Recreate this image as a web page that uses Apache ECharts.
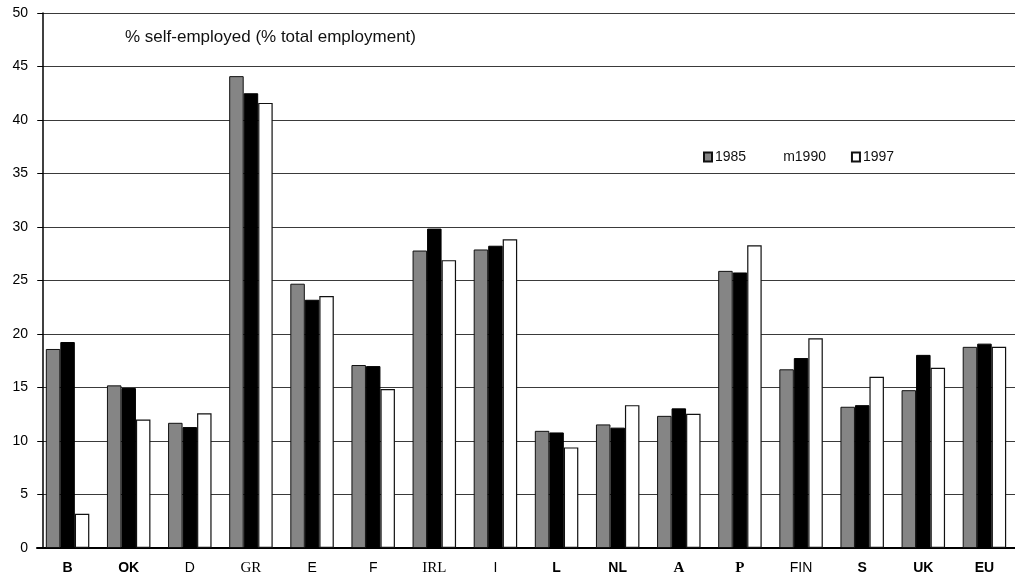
<!DOCTYPE html>
<html>
<head>
<meta charset="utf-8">
<script src="https://cdn.jsdelivr.net/npm/echarts@6/dist/echarts.min.js"></script>
<style>
html, body { margin: 0; padding: 0; background: #fff; }
#chart { width: 1015px; height: 588px; }
</style>
</head>
<body>
<div id="chart"></div>
<script>
// country codes along the x axis
const countries = ['B', 'OK', 'D', 'GR', 'E', 'F', 'IRL', 'I', 'L', 'NL', 'A', 'P', 'FIN', 'S', 'UK', 'EU']
// font style of each label as printed
const labelStyles = ['sb', 'sb', 's', 'r', 's', 's', 'r', 's', 'sb', 'sb', 'rb', 'rb', 's', 'sb', 'sb', 'sb']

// % self-employed
const y1985 = [18.6, 15.2, 11.7, 44.1, 24.7, 17.1, 27.8, 27.9, 10.95, 11.55, 12.35, 25.9, 16.7, 13.2, 14.75, 18.8]
const y1990 = [19.25, 14.95, 11.3, 42.5, 23.2, 17.0, 29.85, 28.25, 10.8, 11.25, 13.05, 25.75, 17.75, 13.35, 18.05, 19.1]
const y1997 = [3.2, 12.0, 12.6, 41.6, 23.55, 14.85, 26.9, 28.85, 9.4, 13.35, 12.55, 28.3, 19.6, 16.0, 16.85, 18.8]

const yTicks = [0, 5, 10, 15, 20, 25, 30, 35, 40, 45, 50]

const chart = echarts.init(document.getElementById('chart'))

const sans = 'Liberation Sans, Arial, sans-serif'
const serif = 'Liberation Serif, Times New Roman, serif'

const barBase = {
    type: 'bar',
    barWidth: 14.5,
    barGap: '0%',
    animation: false
}

let option = {
    backgroundColor: '#fff',
    title: {
        text: '% self-employed (% total employment)',
        left: 120,
        top: 24,
        textStyle: {
            fontFamily: sans,
            fontSize: 17,
            fontWeight: 'normal',
            color: '#111'
        }
    },
    legend: {
        left: 698,
        top: 145,
        icon: 'rect',
        itemWidth: 8,
        itemHeight: 9,
        itemGap: 25,
        textStyle: { fontFamily: sans, fontSize: 14, color: '#111', padding: [0, 0, 0, -2] },
        data: [
            { name: '1985' },
            { name: '1990', itemStyle: { color: 'rgba(0,0,0,0)', borderColor: 'rgba(0,0,0,0)' } },
            { name: '1997' }
        ],
        formatter: function (name) {
            return name === '1990' ? 'm1990' : name
        }
    },
    grid: {
        left: 37,
        right: -8,
        top: 13,
        bottom: 40
    },
    xAxis: {
        type: 'category',
        data: countries,
        axisLine: { lineStyle: { color: '#000', width: 2 } },
        axisTick: { show: false },
        axisLabel: {
            interval: 0,
            margin: 13,
            color: '#000',
            fontSize: 14,
            formatter: function (val, idx) {
                return '{' + labelStyles[idx] + '|' + val + '}'
            },
            rich: {
                s: { fontFamily: sans, fontSize: 14, color: '#000' },
                sb: { fontFamily: sans, fontSize: 14, fontWeight: 'bold', color: '#000' },
                r: { fontFamily: serif, fontSize: 15, color: '#000' },
                rb: { fontFamily: serif, fontSize: 15, fontWeight: 'bold', color: '#000' }
            }
        }
    },
    yAxis: {
        type: 'value',
        min: yTicks[0],
        max: yTicks[yTicks.length - 1],
        interval: 5,
        offset: -6,
        axisLine: { show: true, lineStyle: { color: '#000', width: 1.5 } },
        axisTick: { show: true, length: 5, lineStyle: { color: '#000' } },
        axisLabel: {
            margin: 15,
            fontFamily: sans,
            fontSize: 14,
            color: '#000'
        },
        splitLine: {
            lineStyle: { color: '#3a3a3a', width: 1 }
        }
    },
    series: [
        Object.assign({}, barBase, {
            name: '1985',
            data: y1985,
            itemStyle: {
                color: '#858585',
                borderColor: '#111',
                borderWidth: 1
            }
        }),
        Object.assign({}, barBase, {
            name: '1990',
            data: y1990,
            itemStyle: { color: '#000', borderColor: '#000', borderWidth: 1 }
        }),
        Object.assign({}, barBase, {
            name: '1997',
            data: y1997,
            itemStyle: { color: '#fff', borderColor: '#111', borderWidth: 1.2 }
        })
    ]
}

chart.setOption(option)
</script>
</body>
</html>
